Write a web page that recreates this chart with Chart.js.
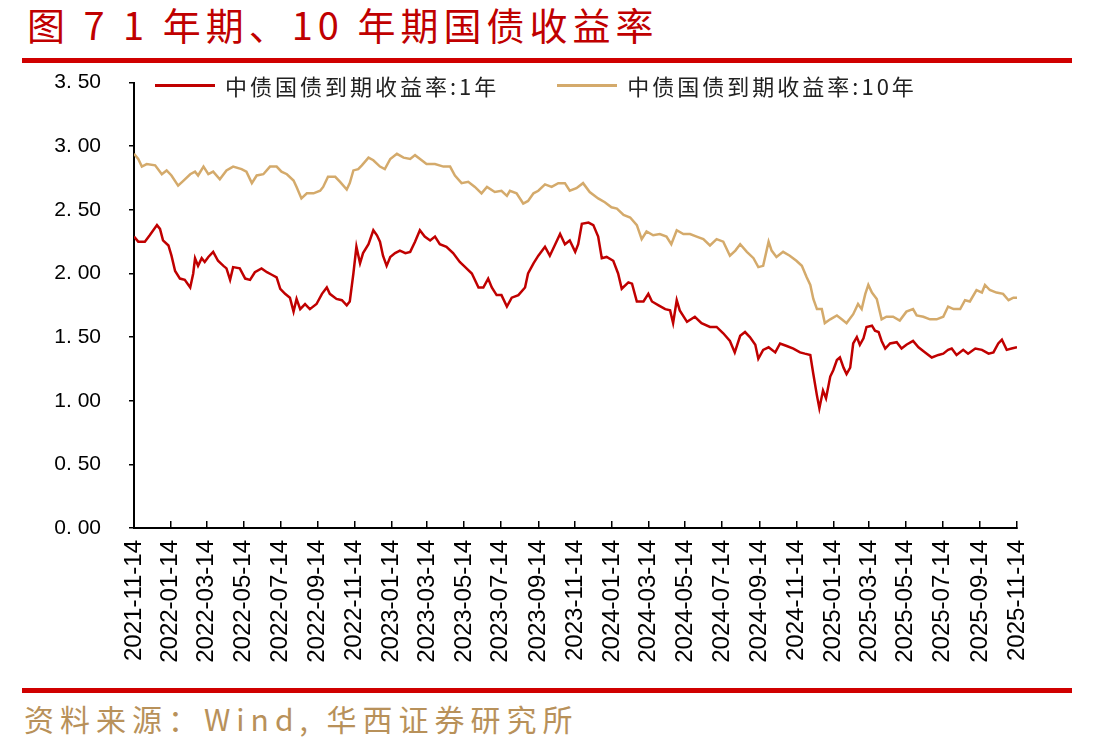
<!DOCTYPE html>
<html>
<head>
<meta charset="utf-8">
<script src="https://cdn.jsdelivr.net/npm/chart.js@4.4.1/dist/chart.umd.min.js"></script>
<style>
  body { margin: 0; background: #fff; width: 1119px; height: 753px; position: relative; overflow: hidden; font-family: "Noto Sans CJK SC", sans-serif; }
  #title { position: absolute; left: 27px; top: 0px; font-size: 38px; line-height: 48px; color: #c00000; letter-spacing: 5px; white-space: pre; }
  .rule { position: absolute; left: 22px; width: 1050px; height: 5px; background: #d00000; }
  #source { position: absolute; left: 24px; top: 698px; font-size: 30px; line-height: 40px; color: #b8915a; letter-spacing: 6px; white-space: pre; }
  #chart-wrap { position: absolute; left: 0; top: 42px; width: 1119px; height: 638px; }
  #legend { position: absolute; left: 155px; top: 72px; display: flex; gap: 58px; font-size: 22px; line-height: 26px; color: #222; letter-spacing: 3px; }
  .legend-item { display: flex; align-items: center; white-space: nowrap; }
  .legend-line { width: 60px; height: 3px; margin-right: 10px; }
</style>
</head>
<body>
<div id="title">图 7 1 年期、10 年期国债收益率</div>
<div class="rule" style="top: 58px;"></div>
<div id="chart-wrap"><canvas id="yield-chart"></canvas></div>
<div id="legend"></div>
<div class="rule" style="top: 688px;"></div>
<div id="source">资料来源：Wind, 华西证券研究所</div>

<script>
// Start date of the series; x values are days counted from here
const startDate = '2021-11-14';

const tickDates = ['2021-11-14', '2022-01-14', '2022-03-14', '2022-05-14', '2022-07-14', '2022-09-14',
    '2022-11-14', '2023-01-14', '2023-03-14', '2023-05-14', '2023-07-14', '2023-09-14',
    '2023-11-14', '2024-01-14', '2024-03-14', '2024-05-14', '2024-07-14', '2024-09-14',
    '2024-11-14', '2025-01-14', '2025-03-14', '2025-05-14', '2025-07-14', '2025-09-14', '2025-11-14'];

const seriesNames = ['中债国债到期收益率:1年', '中债国债到期收益率:10年'];

// 1-year yield (%)
const oneYearDays = [0, 7, 18, 26, 38, 43, 48, 57, 62, 68, 76, 84, 93, 98, 101, 106, 112, 117, 123, 131,
    139, 148, 153, 159, 164, 175, 184, 192, 200, 211, 220, 228, 236, 242, 250, 258, 264, 269, 275, 283,
    291, 302, 311, 319, 324, 335, 344, 352, 357, 363, 368, 374, 379, 388, 396, 402, 407, 412, 418, 424,
    432, 440, 449, 457, 465, 473, 481, 490, 498, 506, 517, 528, 539, 548, 559, 570, 578, 586, 592, 600,
    608, 617, 625, 636, 647, 652, 661, 669, 680, 688, 697, 705, 713, 721, 730, 735, 741, 752, 760, 768,
    774, 782, 793, 801, 807, 818, 824, 832, 843, 851, 857, 868, 879, 887, 892, 898, 903, 915, 928, 939,
    953, 964, 975, 986, 994, 1003, 1011, 1019, 1028, 1033, 1041, 1050, 1061, 1069, 1080, 1091, 1102, 1110, 1119, 1124,
    1130, 1134, 1140, 1145, 1152, 1157, 1163, 1168, 1174, 1179, 1185, 1190, 1196, 1201, 1207, 1212, 1221, 1226, 1232, 1237,
    1243, 1251, 1262, 1270, 1278, 1289, 1298, 1309, 1320, 1331, 1339, 1347, 1353, 1361, 1372, 1380, 1392, 1403, 1414, 1422,
    1430, 1436, 1444, 1452, 1461];
const oneYearValues = [2.29, 2.25, 2.25, 2.30, 2.38, 2.35, 2.26, 2.22, 2.14, 2.02, 1.96, 1.95, 1.89, 2.00, 2.12, 2.06, 2.12, 2.09, 2.13, 2.17,
    2.10, 2.06, 2.04, 1.95, 2.05, 2.04, 1.96, 1.95, 2.01, 2.04, 2.01, 1.99, 1.97, 1.88, 1.84, 1.81, 1.70, 1.80, 1.72, 1.76,
    1.72, 1.76, 1.84, 1.89, 1.84, 1.80, 1.79, 1.75, 1.78, 2.00, 2.21, 2.08, 2.16, 2.23, 2.34, 2.30, 2.25, 2.14, 2.06, 2.13,
    2.16, 2.18, 2.16, 2.17, 2.25, 2.34, 2.29, 2.26, 2.29, 2.23, 2.21, 2.16, 2.09, 2.05, 2.00, 1.89, 1.89, 1.96, 1.89, 1.83,
    1.83, 1.74, 1.81, 1.83, 1.89, 2.00, 2.08, 2.14, 2.21, 2.14, 2.23, 2.31, 2.23, 2.26, 2.17, 2.23, 2.39, 2.40, 2.38, 2.29,
    2.12, 2.13, 2.10, 2.00, 1.88, 1.93, 1.92, 1.78, 1.78, 1.84, 1.78, 1.75, 1.72, 1.71, 1.61, 1.79, 1.71, 1.62, 1.66, 1.61,
    1.58, 1.58, 1.53, 1.47, 1.38, 1.51, 1.54, 1.50, 1.44, 1.33, 1.40, 1.42, 1.38, 1.45, 1.43, 1.41, 1.38, 1.37, 1.36, 1.21,
    1.04, 0.94, 1.08, 1.02, 1.19, 1.24, 1.32, 1.34, 1.26, 1.21, 1.26, 1.45, 1.50, 1.44, 1.49, 1.58, 1.59, 1.55, 1.54, 1.47,
    1.41, 1.45, 1.46, 1.41, 1.44, 1.47, 1.42, 1.38, 1.34, 1.36, 1.37, 1.40, 1.41, 1.36, 1.40, 1.37, 1.41, 1.40, 1.37, 1.38,
    1.45, 1.48, 1.40, 1.41, 1.42];

// 10-year yield (%)
const tenYearDays = [0, 7, 13, 21, 35, 46, 54, 62, 73, 82, 93, 101, 106, 115, 123, 131, 142, 153, 164, 178,
    186, 195, 203, 214, 225, 236, 244, 253, 264, 269, 277, 286, 297, 308, 313, 321, 333, 341, 352, 357,
    363, 371, 377, 388, 396, 407, 415, 424, 435, 446, 457, 465, 476, 484, 498, 512, 523, 531, 542, 553,
    564, 575, 584, 597, 608, 617, 622, 633, 644, 652, 661, 669, 680, 691, 702, 713, 721, 732, 743, 754,
    768, 779, 790, 799, 810, 821, 832, 840, 848, 859, 870, 881, 889, 898, 909, 920, 931, 942, 953, 964,
    975, 986, 995, 1003, 1014, 1025, 1033, 1041, 1050, 1055, 1063, 1074, 1085, 1096, 1105, 1113, 1119, 1124, 1130, 1138,
    1143, 1152, 1163, 1171, 1179, 1190, 1198, 1204, 1210, 1215, 1221, 1229, 1237, 1245, 1256, 1267, 1278, 1289, 1295, 1306,
    1317, 1328, 1339, 1347, 1356, 1367, 1375, 1383, 1394, 1403, 1408, 1416, 1427, 1438, 1447, 1455, 1461];
const tenYearValues = [2.94, 2.90, 2.84, 2.86, 2.85, 2.78, 2.81, 2.77, 2.69, 2.73, 2.78, 2.80, 2.77, 2.84, 2.78, 2.80, 2.74, 2.81, 2.84, 2.82,
    2.80, 2.71, 2.77, 2.78, 2.84, 2.84, 2.80, 2.78, 2.73, 2.68, 2.59, 2.63, 2.63, 2.65, 2.68, 2.76, 2.76, 2.72, 2.66, 2.71,
    2.81, 2.82, 2.85, 2.91, 2.89, 2.84, 2.82, 2.90, 2.94, 2.91, 2.90, 2.93, 2.89, 2.86, 2.86, 2.84, 2.84, 2.77, 2.71, 2.72,
    2.68, 2.63, 2.68, 2.64, 2.65, 2.61, 2.65, 2.63, 2.55, 2.57, 2.63, 2.65, 2.70, 2.68, 2.71, 2.71, 2.65, 2.67, 2.71, 2.64,
    2.59, 2.56, 2.52, 2.51, 2.46, 2.44, 2.38, 2.27, 2.33, 2.30, 2.31, 2.29, 2.23, 2.34, 2.31, 2.31, 2.29, 2.27, 2.22, 2.27,
    2.25, 2.14, 2.18, 2.23, 2.17, 2.12, 2.05, 2.06, 2.25, 2.18, 2.13, 2.17, 2.14, 2.10, 2.06, 1.97, 1.91, 1.80, 1.72, 1.72,
    1.61, 1.64, 1.67, 1.64, 1.61, 1.68, 1.76, 1.72, 1.84, 1.91, 1.85, 1.80, 1.64, 1.66, 1.66, 1.63, 1.70, 1.72, 1.67, 1.66,
    1.64, 1.64, 1.66, 1.74, 1.72, 1.72, 1.79, 1.78, 1.87, 1.85, 1.91, 1.87, 1.85, 1.84, 1.79, 1.81, 1.81];

const seriesColors = ['#c00000', '#d4aa6b'];

function daysFromStart(dateStr) {
    const [y, m, d] = dateStr.split('-').map(Number);
    const [y0, m0, d0] = startDate.split('-').map(Number);
    return Math.round((Date.UTC(y, m - 1, d) - Date.UTC(y0, m0 - 1, d0)) / 86400000);
}

function toPoints(days, values) {
    return days.map((d, i) => ({ x: d, y: values[i] }));
}

const ctx = document.getElementById('yield-chart').getContext('2d');
const chart = new Chart(ctx, {
    type: 'line',
    data: {
        datasets: [{
            label: seriesNames[0],
            data: toPoints(oneYearDays, oneYearValues),
            borderColor: seriesColors[0],
            backgroundColor: seriesColors[0],
            borderWidth: 2.5,
            pointRadius: 0,
            tension: 0
        }, {
            label: seriesNames[1],
            data: toPoints(tenYearDays, tenYearValues),
            borderColor: seriesColors[1],
            backgroundColor: seriesColors[1],
            borderWidth: 2.5,
            pointRadius: 0,
            tension: 0
        }]
    },
    options: {
        responsive: true,
        maintainAspectRatio: false,
        animation: false,
        layout: { padding: { top: 12, right: 102, bottom: 0, left: 0 } },
        plugins: {
            legend: { display: false },
            tooltip: { enabled: false }
        },
        scales: {
            x: {
                type: 'linear',
                min: 0,
                max: daysFromStart(tickDates[tickDates.length - 1]),
                afterBuildTicks: (scale) => {
                    scale.ticks = tickDates.map(d => ({ value: daysFromStart(d) }));
                },
                afterFit: (scale) => { scale.height = 152; },
                border: { color: '#000', width: 2 },
                grid: { drawOnChartArea: false, color: '#000', lineWidth: 1.5, tickLength: -7 },
                ticks: {
                    autoSkip: false,
                    minRotation: 90,
                    maxRotation: 90,
                    padding: 19,
                    color: '#000',
                    font: { family: 'Liberation Sans', size: 24 },
                    callback: (value, index) => tickDates[index]
                }
            },
            y: {
                min: 0,
                max: 3.5,
                afterFit: (scale) => { scale.width = 134; },
                border: { color: '#000', width: 2 },
                grid: { drawOnChartArea: false, color: '#000', lineWidth: 1.5, tickLength: 5 },
                ticks: {
                    stepSize: 0.5,
                    padding: 28,
                    color: '#000',
                    font: { family: 'Liberation Sans', size: 21 },
                    callback: (value) => value.toFixed(2).replace('.', '. ')
                }
            }
        }
    }
});

// HTML legend built from the chart's datasets
const legendBox = document.getElementById('legend');
chart.data.datasets.forEach((ds) => {
    const item = document.createElement('div');
    item.className = 'legend-item';
    const line = document.createElement('span');
    line.className = 'legend-line';
    line.style.background = ds.borderColor;
    const text = document.createElement('span');
    text.textContent = ds.label;
    item.appendChild(line);
    item.appendChild(text);
    legendBox.appendChild(item);
});
</script>
</body>
</html>
